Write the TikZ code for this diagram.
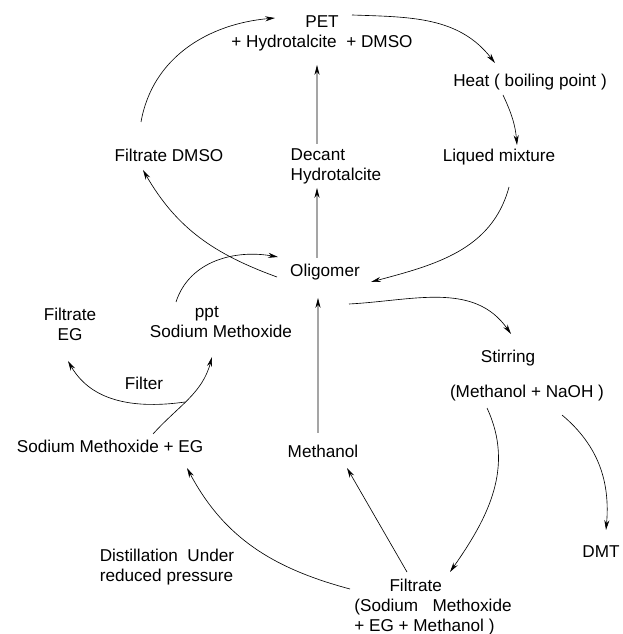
\documentclass[tikz,border=0pt]{standalone}
\usepackage{fontspec}
\setmainfont{Liberation Sans}
\usetikzlibrary{arrows.meta}
\tikzstyle{txt} = [inner sep=0pt, 
font=\fontsize{12.2pt}{14.2pt}\selectfont]
\tikzstyle{arrow} = [line width=0.45pt, ->, 
>={Stealth[length=7pt,width=3.6pt]}]

\begin{document}
\begin{tikzpicture}
	\useasboundingbox (0,0) rectangle (15.55,15.85);

	\node (pet) [txt, align=center] at (8.05,15.025) {PET\\+ Hydrotalcite\ \ + DMSO};
	\node (heat) [txt] at (13.25,13.8) {Heat ( boiling point )};
	\node (liq) [txt] at (12.475,11.925) {Liqued mixture};
	\node (decant) [txt, align=left] at (8.4,11.7) {Decant\\Hydrotalcite};
	\node (fdmso) [txt] at (4.225,11.975) {Filtrate DMSO};
	\node (olig) [txt] at (8.125,9.05) {Oligomer};
	\node (feg) [txt, align=center] at (1.75,7.75) {Filtrate\\EG};
	\node (ppt) [txt, align=left] at (5.525,7.8) {\hspace*{32pt}ppt\\Sodium Methoxide};
	\node (filter) [txt] at (3.6,6.275) {Filter};
	\node (stir) [txt] at (12.7,6.9) {Stirring};
	\node (naoh) [txt] at (13.175,6.025) {(Methanol + NaOH )};
	\node (smeg) [txt] at (2.75,4.7) {Sodium Methoxide + EG};
	\node (meth) [txt] at (8.075,4.575) {Methanol};
	\node (dmt) [txt] at (15.025,2.05) {DMT};
	\node (dist) [txt, align=left] at (4.175,1.675) {Distillation\ \ Under\\reduced pressure};
	\node (filt) [txt, align=left] at (10.825,0.675) {\hspace*{25pt}Filtrate\\(Sodium\ \ \ Methoxide\\+ EG + Methanol )};

	% upper loop
	\draw [arrow] ([shift={(-0.7,0.825)}]fdmso.center) to[out=80,in=185] ([shift={(-1.175,0.375)}]pet.center);
	\draw [arrow] ([shift={(0.75,0.45)}]pet.center) to[out=-2,in=128] ([shift={(-0.875,0.475)}]heat.center);
	\draw [arrow] ([shift={(-0.675,-0.325)}]heat.center) to[out=-65,in=95] ([shift={(0.45,0.3)}]liq.center);
	\draw [arrow] ([shift={(0.25,-0.75)}]liq.center) to[out=-105,in=15] ([shift={(1.15,-0.25)}]olig.center);
	\draw [arrow] ([shift={(-1.2,-0.125)}]olig.center) to[out=160,in=-60] ([shift={(-0.65,-0.375)}]fdmso.center);
	\draw [arrow] ([shift={(-0.2,0.35)}]olig.center) -- ([shift={(-0.475,-0.55)}]decant.center);
	\draw [arrow] ([shift={(-0.475,0.55)}]decant.center) -- ([shift={(-0.125,-0.8)}]pet.center);

	% lower loop
	\draw [arrow] ([shift={(-1.125,0.5)}]ppt.center) to[out=72,in=170] ([shift={(-1.175,0.375)}]olig.center);
	\draw [arrow] ([shift={(-0.125,0.45)}]meth.center) -- ([shift={(-0.175,-0.65)}]olig.center);
	\draw [arrow] ([shift={(0.6,-0.8)}]olig.center) to[out=3,in=125] ([shift={(0.075,0.6)}]stir.center);
	\draw [arrow] ([shift={(1.075,0.3)}]smeg.center) to[out=48,in=-105] coordinate[pos=0.45] (split) ([shift={(-0.225,-0.875)}]ppt.center);
	\draw [arrow] (split) to[out=188,in=-60] ([shift={(-0.05,-0.925)}]feg.center);
	\draw [arrow] ([shift={(-1.0,-0.375)}]naoh.center) to[out=-65,in=55] ([shift={(0.425,0.875)}]filt.center);
	\draw [arrow] ([shift={(0.875,-0.55)}]naoh.center) to[out=-40,in=85] ([shift={(0.125,0.55)}]dmt.center);
	\draw [arrow] ([shift={(-0.65,0.875)}]filt.center) -- ([shift={(0.6,-0.425)}]meth.center);
	\draw [arrow] ([shift={(-2.075,0.45)}]filt.center) to[out=165,in=-62] ([shift={(1.925,-0.55)}]smeg.center);

\end{tikzpicture}
\end{document}
